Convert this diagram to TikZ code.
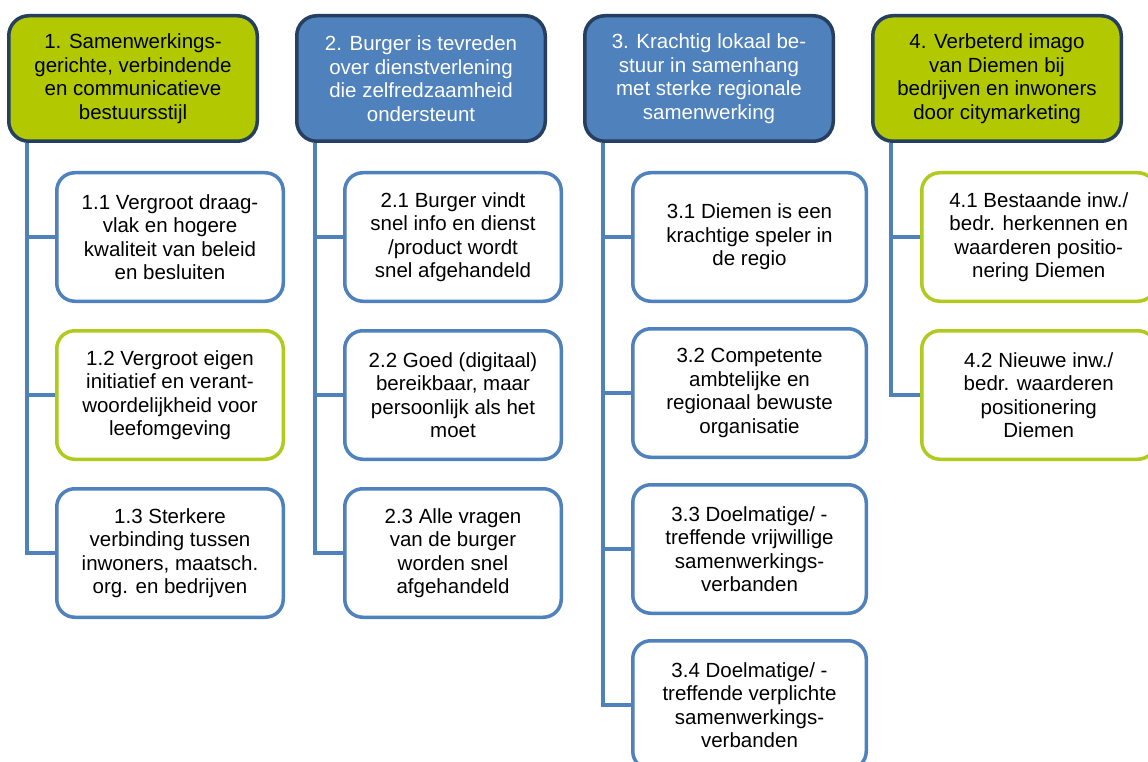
\documentclass[tikz,border=0pt]{standalone}
\usepackage{fontspec}
\setmainfont{Liberation Sans}
\usetikzlibrary{positioning}

\definecolor{headgreen}{RGB}{178,200,0}
\definecolor{headblue}{RGB}{79,129,189}
\definecolor{headrim}{RGB}{38,62,96}
\definecolor{subblue}{RGB}{79,129,189}
\definecolor{subgreen}{RGB}{176,202,30}

\begin{document}
\begin{tikzpicture}[
            node distance = 26pt, % gap between boxes
            line width = 3.5pt,
            font = \fontsize{20.5}{23.5}\selectfont
        ]

        \tikzstyle{head}=[
            draw = headrim,
            rounded corners = 20pt,
            minimum width = 248.5pt,
            minimum height = 125.5pt,
            align = center
        ]
        \tikzstyle{sub}=[
            draw = subblue,
            fill = white,
            rounded corners = 18pt,
            minimum height = 128.5pt,
            align = center
        ]
        \tikzstyle{link}=[draw = subblue, line width = 4pt]

        \clip (0,0) rectangle (1148pt,-762pt);
        \fill[white] (0,0) rectangle (1148pt,-762pt);

        % main goals
        \node[head, fill=headgreen] (1) at (133pt,-78.5pt) {1. Samenwerkings-\\gerichte, verbindende\\en communicatieve\\bestuursstijl};
        \node[head, fill=headblue, text=white] (2) [right=36pt of 1] {2. Burger is tevreden\\over dienstverlening\\die zelfredzaamheid\\ondersteunt};
        \node[head, fill=headblue, text=white] (3) [right=36pt of 2] {3. Krachtig lokaal be-\\stuur in samenhang\\met sterke regionale\\samenwerking};
        \node[head, fill=headgreen] (4) [right=36pt of 3] {4. Verbeterd imago\\van Diemen bij\\bedrijven en inwoners\\door citymarketing};

        % column 1
        \node[sub, minimum width=226.5pt] (11) [below=28pt of 1.south west, anchor=north west, xshift=48pt] {1.1 Vergroot draag-\\vlak en hogere\\kwaliteit van beleid\\en besluiten};
        \node[sub, minimum width=226.5pt, draw=subgreen] (12) [below=of 11] {1.2 Vergroot eigen\\initiatief en verant-\\woordelijkheid voor\\leefomgeving};
        \node[sub, minimum width=226.5pt] (13) [below=of 12] {1.3 Sterkere\\verbinding tussen\\inwoners, maatsch.\\org. en bedrijven};

        % column 2
        \node[sub, minimum width=216.5pt] (21) [below=28pt of 2.south west, anchor=north west, xshift=48pt] {2.1 Burger vindt\\snel info en dienst\\/product wordt\\snel afgehandeld};
        \node[sub, minimum width=216.5pt] (22) [below=of 21] {2.2 Goed (digitaal)\\bereikbaar, maar\\persoonlijk als het\\moet};
        \node[sub, minimum width=216.5pt] (23) [below=of 22] {2.3 Alle vragen\\van de burger\\worden snel\\afgehandeld};

        % column 3
        \node[sub, minimum width=233.5pt] (31) [below=28pt of 3.south west, anchor=north west, xshift=48pt] {3.1 Diemen is een\\krachtige speler in\\de regio};
        \node[sub, minimum width=233.5pt] (32) [below=24pt of 31] {3.2 Competente\\ambtelijke en\\regionaal bewuste\\organisatie};
        \node[sub, minimum width=233.5pt] (33) [below=24pt of 32] {3.3 Doelmatige/ -\\treffende vrijwillige\\samenwerkings-\\verbanden};
        \node[sub, minimum width=233.5pt] (34) [below=24pt of 33] {3.4 Doelmatige/ -\\treffende verplichte\\samenwerkings-\\verbanden};

        % column 4
        \node[sub, minimum width=234pt, draw=subgreen] (41) [below=28pt of 4.south west, anchor=north west, xshift=49pt] {4.1 Bestaande inw./\\bedr. herkennen en\\waarderen positio-\\nering Diemen};
        \node[sub, minimum width=234pt, draw=subgreen] (42) [below=of 41] {4.2 Nieuwe inw./\\bedr. waarderen\\positionering\\Diemen};

        \foreach \c/\s in {1/11, 1/12, 1/13, 2/21, 2/22, 2/23, 3/31, 3/32, 3/33, 3/34, 4/41, 4/42}
            \draw[link] ([xshift=20pt]\c.south west) |- (\s.west);
    \end{tikzpicture}
\end{document}
